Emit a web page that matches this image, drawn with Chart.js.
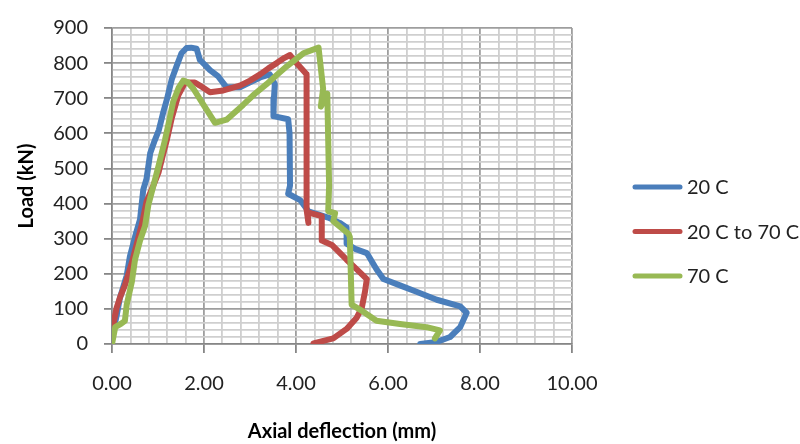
<!DOCTYPE html>
<html>
<head>
<meta charset="utf-8">
<script src="https://cdn.jsdelivr.net/npm/chart.js@4.4.1/dist/chart.umd.min.js"></script>
<style>
  html, body { margin: 0; padding: 0; background: #fff; }
</style>
</head>
<body>
<canvas id="loadChart" width="800" height="444"></canvas>
<script>
// Series names
const seriesNames = ["20 C", "20 C to 70 C", "70 C"];
const seriesColors = ["#4a7ebb", "#be4b48", "#98b954"];

// 20 C
const defl20 = [0.05, 0.10, 0.17, 0.25, 0.32, 0.39, 0.50, 0.61, 0.68, 0.75, 0.83, 0.93, 1.02, 1.12, 1.20, 1.30,
  1.40, 1.51, 1.62, 1.72, 1.84, 1.91, 2.02, 2.13, 2.31, 2.49, 2.78, 3.00, 3.22, 3.43, 3.54, 3.52, 3.51,
  3.83, 3.86, 3.87, 3.83, 4.09, 4.27, 4.70, 4.95, 5.10, 5.10, 5.30, 5.54, 5.75, 5.90, 6.26, 6.62, 7.06,
  7.57, 7.71, 7.57, 7.35, 7.06, 6.70];
const load20 = [50, 80, 130, 165, 195, 250, 305, 355, 440, 470, 543, 580, 610, 663, 700, 754,
  790, 828, 843, 844, 841, 809, 795, 780, 762, 731, 731, 745, 759, 768, 740, 700, 649,
  640, 600, 451, 428, 410, 378, 360, 345, 332, 286, 270, 259, 213, 185, 167, 149, 126,
  107, 89, 48, 20, 6, 0];

// 20 C to 70 C
const defl2070 = [0.00, 0.03, 0.10, 0.18, 0.28, 0.36, 0.43, 0.54, 0.65, 0.75, 0.88, 1.01, 1.10, 1.19, 1.30,
  1.44, 1.59, 1.80, 1.91, 2.13, 2.42, 2.78, 3.00, 3.22, 3.40, 3.58, 3.75, 3.87, 4.01, 4.23, 4.23, 4.23,
  4.27, 4.25, 4.56, 4.56, 4.78, 5.10, 5.39, 5.54, 5.50, 5.43, 5.32, 5.10, 4.81, 4.38];
const load2070 = [50, 57, 103, 135, 167, 200, 231, 286, 341, 405, 445, 488, 535, 580, 644,
  708, 745, 745, 736, 717, 722, 736, 750, 768, 785, 800, 815, 823, 800, 768, 451, 383,
  345, 375, 364, 295, 282, 240, 204, 185, 149, 103, 75, 43, 16, 2];

// 70 C
const defl70 = [0.00, 0.03, 0.07, 0.20, 0.28, 0.32, 0.43, 0.50, 0.61, 0.72, 0.79, 0.90, 1.01, 1.15, 1.25,
  1.33, 1.45, 1.55, 1.65, 1.77, 1.99, 2.24, 2.49, 2.85, 3.10, 3.36, 3.60, 3.80, 4.16, 4.49, 4.59, 4.54,
  4.68, 4.72, 4.70, 4.85, 4.81, 5.14, 5.17, 5.21, 5.39, 5.75, 6.26, 6.84, 7.13, 7.02];
const load70 = [0, 20, 48, 58, 66, 112, 176, 240, 295, 337, 396, 451, 506, 580, 640,
  690, 730, 750, 745, 727, 681, 630, 639, 681, 712, 740, 768, 791, 828, 844, 727, 676,
  713, 451, 378, 373, 350, 314, 305, 112, 98, 66, 57, 48, 39, 16];

// Axis ticks (major labelled, minor only gridlines)
const xMajorTicks = [0, 2, 4, 6, 8, 10];
const yMajorTicks = [0, 100, 200, 300, 400, 500, 600, 700, 800, 900];
const xMinorPerMajor = 5; // minor grid every 0.4 mm
const yMinorPerMajor = 5; // minor grid every 20 kN

function gridValues(majors, perMajor) {
  const vals = [];
  for (let i = 0; i < majors.length - 1; i++) {
    const step = (majors[i + 1] - majors[i]) / perMajor;
    for (let j = 0; j < perMajor; j++) vals.push(majors[i] + j * step);
  }
  vals.push(majors[majors.length - 1]);
  return vals;
}
const isMajor = (majors, v) => majors.some((m) => Math.abs(m - v) < 1e-6);

const toPoints = (xs, ys) => xs.map((x, i) => ({ x: x, y: ys[i] }));
const seriesData = [
  toPoints(defl20, load20),
  toPoints(defl2070, load2070),
  toPoints(defl70, load70),
];

const font = "Lato";
const textColor = "#222";
const majorGrid = "#9e9e9e";
const minorGrid = "#cfcfcf";

// Legend drawn at the right like the original
const sideLegend = {
  id: "sideLegend",
  afterDraw(chart) {
    const { ctx } = chart;
    ctx.save();
    chart.data.datasets.forEach((ds, i) => {
      const y = 187 + i * 44.5;
      ctx.strokeStyle = ds.borderColor;
      ctx.lineWidth = 5;
      ctx.lineCap = "round";
      ctx.beginPath();
      ctx.moveTo(635, y);
      ctx.lineTo(680, y);
      ctx.stroke();
      ctx.fillStyle = textColor;
      ctx.font = "20px " + font;
      ctx.textBaseline = "middle";
      ctx.fillText(ds.label, 687, y + 1);
    });
    ctx.restore();
  },
};

const ctx = document.getElementById("loadChart").getContext("2d");

new Chart(ctx, {
  type: "line",
  data: {
    datasets: seriesData.map((pts, i) => ({
      label: seriesNames[i],
      data: pts,
      borderColor: seriesColors[i],
      backgroundColor: seriesColors[i],
      borderWidth: 6,
      borderCapStyle: "round",
      borderJoinStyle: "round",
      pointRadius: 0,
      tension: 0,
      fill: false,
      order: 3 - i,
    })),
  },
  options: {
    responsive: false,
    animation: false,
    layout: { padding: { left: 0, right: 228, top: 17, bottom: 0 } },
    plugins: { legend: { display: false }, tooltip: { enabled: false } },
    scales: {
      x: {
        type: "linear",
        min: 0,
        max: 10,
        afterBuildTicks: (scale) => {
          scale.ticks = gridValues(xMajorTicks, xMinorPerMajor).map((v) => ({ value: v }));
        },
        afterFit: (scale) => { scale.height = 100; },
        ticks: {
          autoSkip: false,
          maxRotation: 0,
          padding: 19,
          color: textColor,
          font: { family: font, size: 20 },
          callback: (v) => (isMajor(xMajorTicks, v) ? v.toFixed(2) : ""),
        },
        grid: {
          color: (c) => (c.tick && isMajor(xMajorTicks, c.tick.value) ? majorGrid : minorGrid),
          lineWidth: 1.8,
          tickLength: 9,
          tickColor: (c) => (c.tick && isMajor(xMajorTicks, c.tick.value) ? "#868686" : "rgba(0,0,0,0)"),
        },
        border: { color: "#868686", width: 1.5 },
        title: {
          display: true,
          text: "Axial deflection (mm)",
          color: "#000",
          font: { family: font, size: 20, weight: "bold" },
          padding: { top: 0, bottom: 0 },
        },
      },
      y: {
        type: "linear",
        min: 0,
        max: 900,
        afterBuildTicks: (scale) => {
          scale.ticks = gridValues(yMajorTicks, yMinorPerMajor).map((v) => ({ value: v }));
        },
        afterFit: (scale) => { scale.width = 112; },
        ticks: {
          autoSkip: false,
          padding: 16,
          color: textColor,
          font: { family: font, size: 20 },
          callback: (v) => (isMajor(yMajorTicks, v) ? String(v) : ""),
        },
        grid: {
          color: (c) => (c.tick && isMajor(yMajorTicks, c.tick.value) ? majorGrid : minorGrid),
          lineWidth: 1.8,
          tickLength: 8,
          tickColor: (c) => (c.tick && isMajor(yMajorTicks, c.tick.value) ? "#868686" : "rgba(0,0,0,0)"),
        },
        border: { color: "#868686", width: 1.5 },
        title: {
          display: true,
          text: "Load (kN)",
          color: "#000",
          font: { family: font, size: 20, weight: "bold" },
          padding: { top: 15, bottom: 0 },
        },
      },
    },
  },
  plugins: [sideLegend],
});
</script>
</body>
</html>
